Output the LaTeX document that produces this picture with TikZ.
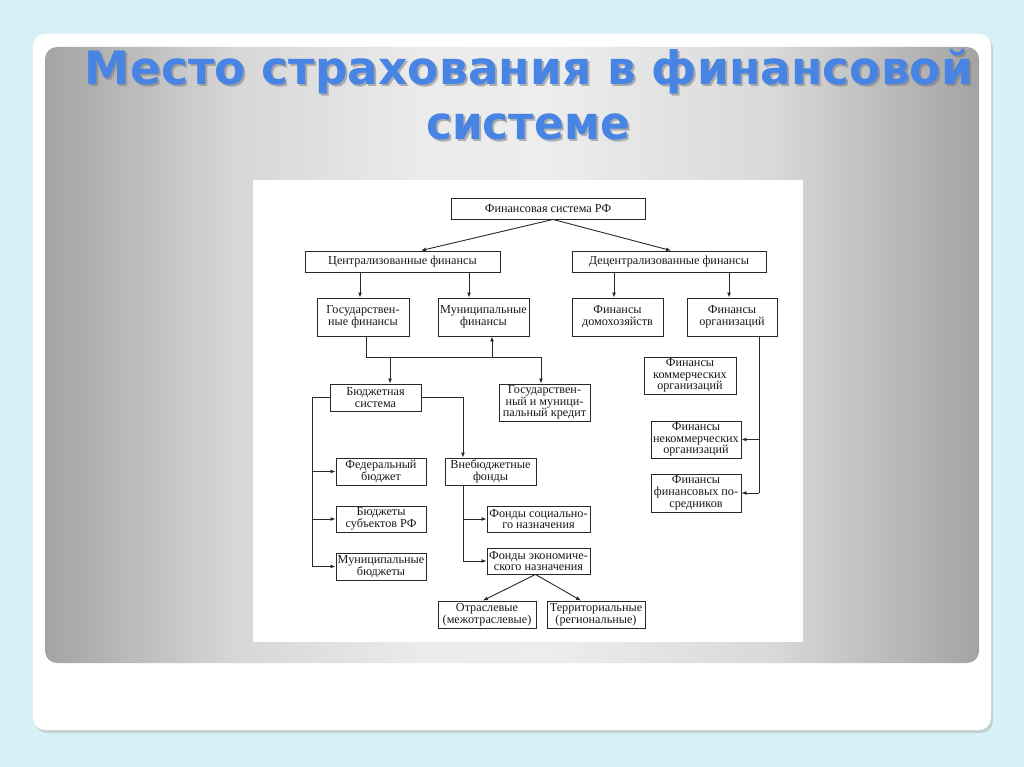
\documentclass[tikz,border=0pt]{standalone}
\usepackage{fontspec}
\usepackage{graphicx}
\setmainfont{Liberation Serif}
\newfontfamily\titlefont{DejaVu Sans}
\usetikzlibrary{arrows.meta,calc}
\definecolor{bgcyan}{RGB}{216,241,246}
\definecolor{titleblue}{RGB}{72,132,228}
\definecolor{lin}{RGB}{40,40,40}
\pgfdeclarehorizontalshading{panelshade}{100bp}{rgb(0bp)=(0.64,0.64,0.64); rgb(25bp)=(0.64,0.64,0.64); rgb(35bp)=(0.84,0.84,0.84); rgb(45bp)=(0.92,0.92,0.92); rgb(52bp)=(0.93,0.93,0.93); rgb(64bp)=(0.85,0.85,0.85); rgb(75bp)=(0.64,0.64,0.64); rgb(100bp)=(0.64,0.64,0.64)}
\newcommand\mybox[6]{\node[box,minimum width={(#4-#2)*1pt},minimum height={(#5-#3)*1pt}] (#1) at ({(#2+#4)/2},{(#3+#5)/2}) {#6};}
\begin{document}
\begin{tikzpicture}[x=1pt,y=-1pt,
 box/.style={draw=lin,line width=0.9pt,fill=white,inner sep=0pt,align=center,font=\fontsize{12.2}{11.8}\selectfont,text=black!90},
 conn/.style={draw=lin,line width=0.9pt},
 arr/.style={conn,-{Latex[length=5pt,width=4pt]}},
 ttl/.style={inner sep=0pt,anchor=base,font=\titlefont\bfseries\fontsize{46}{55}\selectfont}
]
\useasboundingbox (0,0) rectangle (1024,767);
\fill[bgcyan] (0,0) rectangle (1024,767);
\fill[black!30,opacity=0.5,rounded corners=12pt] (35,37) rectangle (993,733);
\fill[white,rounded corners=12pt] (33,34) rectangle (991,730);
\shade[rounded corners=12pt,shading=panelshade] (45,47) rectangle (979,663);
\fill[white] (253,180) rectangle (803,642);

% title
\node[ttl,text=black!55,opacity=0.5] (t1s) at (531,87) {\resizebox{888pt}{\height}{Место страхования в финансовой}};
\node[ttl,text=titleblue] (t1) at (529,85) {\resizebox{888pt}{\height}{Место страхования в финансовой}};
\node[ttl,text=black!55,opacity=0.5] (t2s) at (530,142) {\resizebox{204pt}{\height}{системе}};
\node[ttl,text=titleblue] (t2) at (528,140) {\resizebox{204pt}{\height}{системе}};

% boxes
\mybox{top}{451}{198}{645}{219}{Финансовая система РФ}
\mybox{central}{305}{251}{500}{272}{Централизованные финансы}
\mybox{decent}{572}{251}{766}{272}{Децентрализованные финансы}
\mybox{gos}{317}{298}{409}{336}{Государствен-\\ные финансы}
\mybox{mun}{438}{298}{529}{336}{Муниципальные\\финансы}
\mybox{dom}{572}{298}{663}{336}{Финансы\\домохозяйств}
\mybox{org}{687}{298}{777}{336}{Финансы\\организаций}
\mybox{bud}{330}{384}{421}{411}{Бюджетная\\система}
\mybox{cred}{499}{384}{590}{421}{Государствен-\\ный и муници-\\пальный кредит}
\mybox{fed}{336}{458}{426}{485}{Федеральный\\бюджет}
\mybox{vneb}{445}{458}{536}{485}{Внебюджетные\\фонды}
\mybox{sub}{336}{506}{426}{532}{Бюджеты\\субъектов РФ}
\mybox{munb}{336}{553}{426}{580}{Муниципальные\\бюджеты}
\mybox{soc}{487}{506}{590}{532}{Фонды социально-\\го назначения}
\mybox{econ}{487}{548}{590}{574}{Фонды экономиче-\\ского назначения}
\mybox{otr}{438}{601}{536}{628}{Отраслевые\\(межотраслевые)}
\mybox{terr}{547}{601}{645}{628}{Территориальные\\(региональные)}
\mybox{kom}{644}{357}{736}{394}{Финансы\\коммерческих\\организаций}
\mybox{nk}{651}{421}{741}{458}{Финансы\\некоммерческих\\организаций}
\mybox{fp}{651}{474}{741}{512}{Финансы\\финансовых по-\\средников}

% guides
\coordinate (g312) at (312,0);
\coordinate (g360) at (360,0);
\coordinate (g390) at (390,0);
\coordinate (g421) at (421,0);
\coordinate (g463) at (463,0);
\coordinate (g469) at (469,0);
\coordinate (g492) at (492,0);
\coordinate (g541) at (541,0);
\coordinate (g614) at (614,0);
\coordinate (g671) at (671,0);
\coordinate (g729) at (729,0);
\coordinate (g759) at (759,0);
\coordinate (j) at (366,357);

% connectors
\draw[arr] ([xshift=5pt]top.south) -- (central.north -| g421);
\draw[arr] ([xshift=5pt]top.south) -- (decent.north -| g671);
\draw[arr] (central.south -| g360) -- (gos.north -| g360);
\draw[arr] (central.south -| g469) -- (mun.north -| g469);
\draw[arr] (decent.south -| g614) -- (dom.north -| g614);
\draw[arr] (decent.south -| g729) -- (org.north -| g729);
\draw[conn] (gos.south -| j) -- (j) -- (j -| g541);
\draw[arr] (j -| g492) -- (mun.south -| g492);
\draw[arr] (j -| g390) -- (bud.north -| g390);
\draw[arr] (j -| g541) -- (cred.north -| g541);
\draw[conn] (bud.west) -| (g312 |- munb.west);
\draw[arr] (g312 |- fed.west) -- (fed.west);
\draw[arr] (g312 |- sub.west) -- (sub.west);
\draw[arr] (g312 |- munb.west) -- (munb.west);
\draw[arr] (bud.east) -| (vneb.north -| g463);
\draw[conn] (vneb.south -| g463) -- (g463 |- econ.west);
\draw[arr] (g463 |- soc.west) -- (soc.west);
\draw[arr] (g463 |- econ.west) -- (econ.west);
\draw[arr] ([xshift=-3pt]econ.south) -- ([xshift=-4pt]otr.north);
\draw[arr] ([xshift=-3pt]econ.south) -- ([xshift=-15pt]terr.north);
\draw[conn] (org.south -| g759) -- (g759 |- fp.east);
\draw[arr] (g759 |- nk.east) -- (nk.east);
\draw[arr] (g759 |- fp.east) -- (fp.east);
\end{tikzpicture}
\end{document}
